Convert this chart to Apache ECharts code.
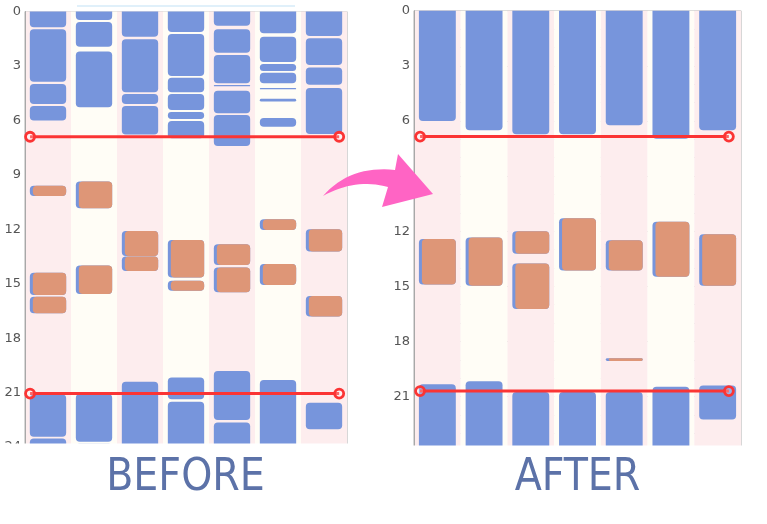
<!DOCTYPE html>
<html>
<head>
<meta charset="utf-8">
<script src="https://cdn.jsdelivr.net/npm/echarts@6/dist/echarts.min.js"></script>
<style>
html, body { margin: 0; padding: 0; background: #fff; }
#chart { width: 767px; height: 524px; }
</style>
</head>
<body>
<div id="chart"></div>
<script>
// one column per day, hours run 0 (top) -> 24 (bottom)
const days = ['1', '2', '3', '4', '5', '6', '7'];

// [start, end] in hours
const beforeSleep = [
    [[0, 0.87], [0.98, 3.87], [4.0, 5.1], [5.2, 6.0], [21.1, 23.43], [23.52, 24]],
    [[0, 0.47], [0.58, 1.94], [2.21, 5.28], [21.08, 23.7], [23.82, 24]],
    [[0, 1.39], [1.53, 4.45], [4.55, 5.1], [5.2, 6.77], [20.4, 24]],
    [[0, 1.13], [1.24, 3.55], [3.65, 4.45], [4.55, 5.43], [5.54, 5.92], [6.03, 6.99], [20.16, 21.37], [21.5, 24]],
    [[0, 0.78], [0.98, 2.27], [2.4, 3.96], [4.05, 4.12], [4.36, 5.61], [5.7, 7.41], [19.81, 22.51], [22.64, 24]],
    [[0, 1.2], [1.39, 2.78], [2.89, 3.28], [3.37, 3.96], [4.21, 4.29], [4.81, 4.96], [5.87, 6.35], [20.3, 24]],
    [[0, 1.35], [1.48, 2.95], [3.08, 4.03], [4.22, 6.75], [21.55, 23.02]]
];
const beforeNap = [
    [[9.6, 10.17], [14.39, 15.62], [15.71, 16.63]],
    [[9.37, 10.84], [14.0, 15.56]],
    [[12.09, 13.47], [13.5, 14.3]],
    [[12.59, 14.65], [14.83, 15.38]],
    [[12.83, 13.97], [14.1, 15.47]],
    [[11.45, 12.04], [13.91, 15.07]],
    [[12.0, 13.23], [15.68, 16.81]]
];
const afterSleep = [
    [[0, 6.0], [20.33, 24]],
    [[0, 6.5], [20.16, 24]],
    [[0, 6.73], [20.75, 24]],
    [[0, 6.73], [20.75, 24]],
    [[0, 6.24], [20.75, 24]],
    [[0, 6.97], [20.47, 24]],
    [[0, 6.5], [20.4, 22.25]]
];
const afterNap = [
    [[12.43, 14.9]],
    [[12.34, 14.97]],
    [[12.0, 13.23], [13.76, 16.23]],
    [[11.3, 14.14]],
    [[12.49, 14.14], [18.91, 19.06]],
    [[11.49, 14.48]],
    [[12.17, 14.97]]
];

// target lines: hour levels and their x span (in day units)
const beforeTargets = [6.9, 21.05];
const afterTargets = [6.85, 20.7];
const beforeTargetSpan = [0.11, 6.83];
const afterTargetSpan = [0.13, 6.74];

const BLUE = '#7795dc';
const ORANGE = '#de9677';
const RED = '#fb3434';
const PINK = '#fdedee';
const CREAM = '#fffdf6';

function toItems(list, kind) {
    const out = [];
    list.forEach((segs, d) => {
        segs.forEach(s => out.push([d, s[0], s[1], kind]));
    });
    return out;
}

function renderBlock(params, api) {
    const day = api.value(0);
    const start = api.value(1);
    const end = api.value(2);
    const p0 = api.coord([day, start]);
    const p1 = api.coord([day, end]);
    const w = api.size([1, 0])[0] * 0.79;
    const x = p0[0] - w / 2;
    const y = p0[1];
    const h = Math.max(p1[1] - p0[1], 1);
    const r = start <= 0 ? [0, 0, 4, 4] : (end >= 24 ? [4, 4, 0, 0] : 4);
    const blue = {
        type: 'rect',
        shape: { x: x, y: y, width: w, height: h, r: r },
        style: { fill: BLUE }
    };
    if (api.value(3) === 0) {
        return blue;
    }
    return {
        type: 'group',
        children: [blue, {
            type: 'rect',
            shape: { x: x + 3, y: y, width: w - 3, height: h, r: r },
            style: { fill: ORANGE }
        }]
    };
}

function xAxes(gi) {
    return [{
        gridIndex: gi,
        type: 'category',
        data: days,
        axisLine: { show: false },
        axisTick: { show: false },
        axisLabel: { show: false },
        splitLine: { show: false },
        splitArea: { show: true, areaStyle: { color: [PINK, CREAM] } }
    }, {
        gridIndex: gi,
        type: 'value',
        min: 0,
        max: 7,
        show: false
    }];
}

function yAxis(gi) {
    return {
        gridIndex: gi,
        type: 'value',
        inverse: true,
        min: 0,
        max: 24,
        interval: 3,
        axisLine: { show: true, lineStyle: { color: '#a8a8a8' } },
        axisTick: { show: false },
        axisLabel: { color: '#555', fontSize: 13, margin: 4, fontFamily: 'DejaVu Sans' },
        splitLine: { show: true, lineStyle: { color: '#d2d2d2' } },
        minorTick: { show: false, splitNumber: 3 },
        minorSplitLine: { show: true, lineStyle: { color: '#dadada', type: [2, 3] } }
    };
}

function targetSeries(gi, levels, span) {
    return levels.map(v => ({
        type: 'line',
        xAxisIndex: gi * 2 + 1,
        yAxisIndex: gi,
        data: [[span[0], v], [span[1], v]],
        symbol: 'circle',
        symbolSize: 9,
        lineStyle: { color: RED, width: 3 },
        itemStyle: { color: 'rgba(255,255,255,0.25)', borderColor: RED, borderWidth: 2.8 },
        z: 5,
        silent: true
    }));
}

function blockSeries(gi, sleep, nap) {
    return {
        type: 'custom',
        xAxisIndex: gi * 2,
        yAxisIndex: gi,
        renderItem: renderBlock,
        encode: { x: 0, y: [1, 2] },
        data: toItems(sleep, 0).concat(toItems(nap, 1)),
        z: 3
    };
}

// curved arrow outline between the panels, sampled from two quadratic curves
function quad(a, c, b, n) {
    const pts = [];
    for (let i = 0; i <= n; i++) {
        const t = i / n;
        const u = 1 - t;
        pts.push([u * u * a[0] + 2 * u * t * c[0] + t * t * b[0], u * u * a[1] + 2 * u * t * c[1] + t * t * b[1]]);
    }
    return pts;
}
const arrowPts = quad([323, 196], [350, 165], [395, 170], 16)
    .concat([[398, 154], [433, 194], [382, 207]])
    .concat(quad([388, 187], [355, 178], [323, 196], 16));

const chart = echarts.init(document.getElementById('chart'));
chart.setOption({
    animation: false,
    backgroundColor: '#fff',
    grid: [
        { left: 25, top: 11.5, width: 322, height: 435.6, show: true, borderColor: '#b0b0b0', borderWidth: 1 },
        { left: 414, top: 10.7, width: 327, height: 441, show: true, borderColor: '#b0b0b0', borderWidth: 1 }
    ],
    xAxis: xAxes(0).concat(xAxes(1)),
    yAxis: [yAxis(0), yAxis(1)],
    series: [
        blockSeries(0, beforeSleep, beforeNap),
        blockSeries(1, afterSleep, afterNap)
    ].concat(targetSeries(0, beforeTargets, beforeTargetSpan), targetSeries(1, afterTargets, afterTargetSpan)),
    graphic: [
        { type: 'line', z: 100, shape: { x1: 77, y1: 6, x2: 295, y2: 6 }, style: { stroke: '#d6ebf8', lineWidth: 1.5 } },
        { type: 'rect', z: 100, shape: { x: 0, y: 443.5, width: 400, height: 81 }, style: { fill: '#fff' } },
        { type: 'rect', z: 100, shape: { x: 400, y: 445.5, width: 367, height: 79 }, style: { fill: '#fff' } },
        { type: 'polygon', z: 100, shape: { points: arrowPts }, style: { fill: '#ff64c4' } },
        {
            type: 'text', z: 101, x: 185.5, y: 479,
            style: { text: 'BEFORE', fill: '#5c72a8', fontSize: 44, fontFamily: 'DejaVu Sans Condensed, DejaVu Sans', align: 'center', verticalAlign: 'middle' }
        },
        {
            type: 'text', z: 101, x: 577.5, y: 479,
            style: { text: 'AFTER', fill: '#5c72a8', fontSize: 44, fontFamily: 'DejaVu Sans Condensed, DejaVu Sans', align: 'center', verticalAlign: 'middle' }
        }
    ]
});
</script>
</body>
</html>
